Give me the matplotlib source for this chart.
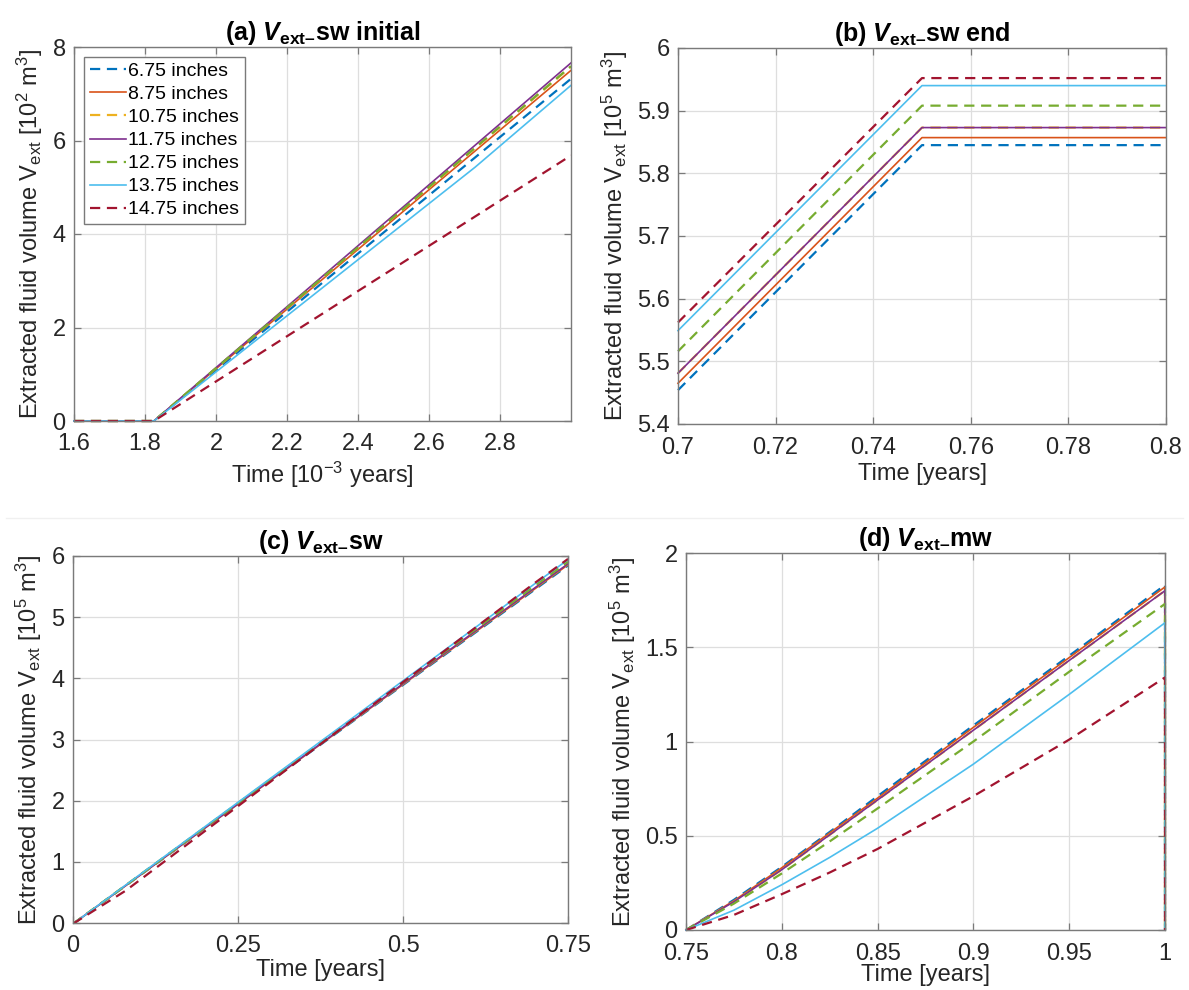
import matplotlib
matplotlib.use("Agg")
import matplotlib.pyplot as plt
from matplotlib.ticker import FuncFormatter, FixedLocator
from matplotlib.lines import Line2D

plt.rcParams['font.family'] = ['Liberation Sans', 'DejaVu Sans']
plt.rcParams['mathtext.fontset'] = 'custom'
plt.rcParams['mathtext.rm'] = 'Liberation Sans'
plt.rcParams['mathtext.it'] = 'Liberation Sans:italic'
plt.rcParams['mathtext.bf'] = 'Liberation Sans:bold'
plt.rcParams['mathtext.bfit'] = 'Liberation Sans:bold:italic'

# ---------------- data ----------------
labels = ['6.75 inches', '8.75 inches', '10.75 inches', '11.75 inches',
          '12.75 inches', '13.75 inches', '14.75 inches']
colors = ['#0072BD', '#D95319', '#EDB120', '#7E2F8E', '#77AC30', '#4DBEEE', '#A2142F']
styles = ['--', '-', '--', '-', '--', '-', '--']

# (a) initial phase, time [1e-3 years], volume [1e2 m^3]
ta = [1.6, 1.825, 3.0]
ta_cyan = [1.6, 1.825, 2.73, 3.0]
va = {
    '6.75 inches': [0, 0, 7.32],
    '8.75 inches': [0, 0, 7.50],
    '10.75 inches': [0, 0, 7.58],
    '11.75 inches': [0, 0, 7.66],
    '12.75 inches': [0, 0, 7.59],
    '13.75 inches': [0, 0, 5.43, 7.18],
    '14.75 inches': [0, 0, 5.68],
}

# (b) end of sw phase, time [years], volume [1e5 m^3]
tb = [0.7, 0.75, 0.8]
vb = {
    '6.75 inches': [5.454, 5.845, 5.845],
    '8.75 inches': [5.465, 5.857, 5.857],
    '10.75 inches': [5.481, 5.873, 5.873],
    '11.75 inches': [5.481, 5.873, 5.873],
    '12.75 inches': [5.516, 5.908, 5.908],
    '13.75 inches': [5.549, 5.940, 5.940],
    '14.75 inches': [5.562, 5.952, 5.952],
}

# (c) whole sw phase, time [years], volume [1e5 m^3]
tc = [0.0, 0.0018, 0.7, 0.75]
vc = {
    '6.75 inches': [0, 0, 5.454, 5.845],
    '8.75 inches': [0, 0, 5.465, 5.857],
    '10.75 inches': [0, 0, 5.481, 5.873],
    '11.75 inches': [0, 0, 5.481, 5.873],
    '12.75 inches': [0, 0, 5.516, 5.908],
    '13.75 inches': [0, 0, 5.549, 5.940],
    '14.75 inches': [0, 0, 5.562, 5.952],
}
tc_red = [0.0, 0.0018, 0.08, 0.7, 0.75]
vc_red = [0, 0, 0.53, 5.562, 5.952]

# (d) mw phase, time [years], volume [1e5 m^3]
td = [0.75, 0.775, 0.8, 0.825, 0.85, 0.9, 0.95, 1.0, 1.0]
vd = {
    '6.75 inches': [0, 0.16, 0.335, 0.52, 0.71, 1.085, 1.455, 1.83, 0],
    '8.75 inches': [0, 0.155, 0.33, 0.515, 0.70, 1.075, 1.445, 1.82, 0],
    '10.75 inches': [0, 0.15, 0.32, 0.505, 0.69, 1.06, 1.43, 1.80, 0],
    '11.75 inches': [0, 0.15, 0.32, 0.505, 0.69, 1.06, 1.43, 1.80, 0],
    '12.75 inches': [0, 0.14, 0.30, 0.47, 0.645, 1.00, 1.37, 1.73, 0],
    '13.75 inches': [0, 0.105, 0.24, 0.385, 0.54, 0.88, 1.25, 1.63, 0],
    '14.75 inches': [0, 0.08, 0.19, 0.305, 0.43, 0.71, 1.01, 1.34, 0],
}

# ---------------- figure ----------------
W, H = 1189, 990
fig = plt.figure(figsize=(W / 100, H / 100), dpi=100)

def rect(x0, x1, y0, y1):
    return [x0 / W, 1 - y1 / H, (x1 - x0) / W, (y1 - y0) / H]

fs = 17
tfs = 18
TC = '#262626'
DASH = '\u2013'

def gfmt(v, pos):
    return '%g' % round(v, 6)

def style_ax(ax, xticks, yticks, xlim, ylim):
    ax.set_xlim(xlim)
    ax.set_ylim(ylim)
    ax.xaxis.set_major_locator(FixedLocator(xticks))
    ax.yaxis.set_major_locator(FixedLocator(yticks))
    ax.xaxis.set_major_formatter(FuncFormatter(gfmt))
    ax.yaxis.set_major_formatter(FuncFormatter(gfmt))
    ax.grid(True, color='#dedede', linewidth=0.9)
    ax.set_axisbelow(True)
    for s in ax.spines.values():
        s.set_color('#7a7a7a')
        s.set_linewidth(1.0)
    ax.tick_params(direction='in', length=5, width=0.9, color='#7a7a7a',
                   top=True, right=True, labelsize=fs, labelcolor=TC)
    ax.tick_params(axis='x', pad=9)
    ax.tick_params(axis='y', pad=6)

def plot_line(ax, x, y, lab, i, clip=True):
    ls = styles[i]
    lw = 1.6 if ls == '--' else 1.2
    line, = ax.plot(x, y, color=colors[i], linestyle=ls, linewidth=lw, label=lab,
                    clip_on=clip)
    if ls == '--':
        line.set_dashes((4.6, 3.0))
    return line

def title_text(prefix, suffix):
    return prefix + ' $\\mathbfit{V}_{\\mathbf{ext' + DASH + '}}$' + suffix

ylab = 'Extracted fluid volume V$_{\\rm ext}$ [10$^{%d}$ m$^{3}$]'

# (a)
axa = fig.add_axes(rect(74, 571, 47, 421))
for i, lab in enumerate(labels):
    x = ta_cyan if lab == '13.75 inches' else ta
    plot_line(axa, x, va[lab], lab, i, clip=False)
style_ax(axa, [1.6, 1.8, 2.0, 2.2, 2.4, 2.6, 2.8], [0, 2, 4, 6, 8], (1.6, 3.0), (0, 8))
axa.set_title(title_text('(a)', 'sw initial'), fontsize=tfs,
              fontweight='bold', pad=5, color='black')
axa.set_xlabel('Time [10$^{-3}$ years]', fontsize=fs, color=TC, labelpad=3)
axa.set_ylabel(ylab % 2, fontsize=fs, color=TC, labelpad=5)
leg = axa.legend(loc='upper left', fontsize=14, frameon=True, fancybox=False,
                 edgecolor='#7a7a7a', framealpha=1, handlelength=1.85,
                 handletextpad=0.15, labelspacing=0.28, borderpad=0.3,
                 borderaxespad=0.5)
leg.get_frame().set_linewidth(1.0)

# (b)
axb = fig.add_axes(rect(678, 1166, 48, 424))
for i, lab in enumerate(labels):
    plot_line(axb, tb, vb[lab], lab, i, clip=False)
style_ax(axb, [0.7, 0.72, 0.74, 0.76, 0.78, 0.8], [5.4, 5.5, 5.6, 5.7, 5.8, 5.9, 6.0],
         (0.7, 0.8), (5.4, 6.0))
axb.set_title(title_text('(b)', 'sw end'), fontsize=tfs,
              fontweight='bold', pad=5, color='black')
axb.set_xlabel('Time [years]', fontsize=fs, color=TC, labelpad=3)
axb.set_ylabel(ylab % 5, fontsize=fs, color=TC, labelpad=5)

# (c)
axc = fig.add_axes(rect(73, 568, 556, 923))
for i, lab in enumerate(labels):
    if lab == '14.75 inches':
        plot_line(axc, tc_red, vc_red, lab, i)
    else:
        plot_line(axc, tc, vc[lab], lab, i)
style_ax(axc, [0, 0.25, 0.5, 0.75], [0, 1, 2, 3, 4, 5, 6], (0, 0.75), (0, 6))
axc.set_title(title_text('(c)', 'sw'), fontsize=tfs,
              fontweight='bold', pad=5, color='black')
axc.set_xlabel('Time [years]', fontsize=fs, color=TC, labelpad=1)
axc.set_ylabel(ylab % 5, fontsize=fs, color=TC, labelpad=5)

# (d)
axd = fig.add_axes(rect(686, 1165, 553, 930))
for i, lab in enumerate(labels):
    plot_line(axd, td, vd[lab], lab, i, clip=False)
style_ax(axd, [0.75, 0.8, 0.85, 0.9, 0.95, 1.0], [0, 0.5, 1, 1.5, 2], (0.75, 1.0), (0, 2))
axd.set_title(title_text('(d)', 'mw'), fontsize=tfs,
              fontweight='bold', pad=5, color='black')
axd.set_xlabel('Time [years]', fontsize=fs, color=TC, labelpad=0)
axd.set_ylabel(ylab % 5, fontsize=fs, color=TC, labelpad=5)

# faint separator line between panel rows
fig.add_artist(Line2D([0.005, 0.995], [1 - 518 / H, 1 - 518 / H], color='#f0f0f0',
                      linewidth=1.0, transform=fig.transFigure))

fig.savefig('out.png', dpi=100, facecolor='white')
